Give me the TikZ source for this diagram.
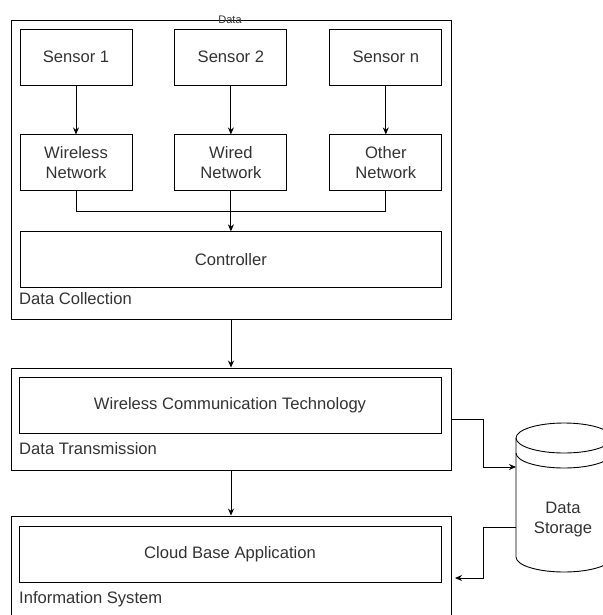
\documentclass[tikz,border=0pt]{standalone}
\usepackage{fontspec}
\setmainfont{Liberation Sans}
\usetikzlibrary{arrows.meta,positioning}
\definecolor{txt}{HTML}{333333}
\tikzstyle{block}=[rectangle,draw=black,line width=0.9pt,minimum width=112pt,
minimum height=56pt,inner sep=0pt,align=center,text=txt,font={\fontsize{16.6}{20}\selectfont}]
\tikzstyle{group}=[rectangle,draw=black,line width=0.9pt,minimum width=440pt,inner sep=0pt]
\tikzstyle{caption}=[anchor=west,inner sep=0pt,text=txt,font={\fontsize{16.6}{20}\selectfont}]
\tikzstyle{link}=[line width=0.9pt,-{Stealth[length=7pt,width=6pt]}]

\begin{document}
\begin{tikzpicture}[x=1pt,y=-1pt]
			\tikzstyle{wire}=[line width=0.9pt]
			\useasboundingbox (0,0) rectangle (602,615);

			% data collection
			\node[group,minimum height=299pt] (dc) at (231,169.5) {};
			\node[text=txt,inner sep=0pt,font={\fontsize{11}{13}\selectfont}] (datalabel) at (230,20) {Data};
			\node[block] (s1) at (76,57) {Sensor 1};
			\node[block, right=42pt of s1] (s2) {Sensor 2};
			\node[block, right=42pt of s2] (sn) {Sensor n};
			\node[block, below=49pt of s1] (wless) {Wireless\\Network};
			\node[block, below=49pt of s2] (wired) {Wired\\Network};
			\node[block, below=49pt of sn] (other) {Other\\Network};
			\node[block, minimum width=421pt, below=40pt of wired] (ctrl) {Controller};
			\node[caption] (dclabel) at (19,299) {Data Collection};

			% data transmission
			\node[group,minimum height=102pt] (dt) at (231,419) {};
			\node[block,minimum width=422pt] (wct) at (230,405) {Wireless Communication Technology};
			\node[caption] (dtlabel) at (19,449) {Data Transmission};

			% information system
			\node[group,minimum height=102pt] (is) at (231,567) {};
			\node[block,minimum width=422pt] (cba) at (230,554) {Cloud Base Application};
			\node[caption] (islabel) at (19,599) {Information System};

			% data storage
			\draw[wire] (564,438) ellipse [x radius=48pt,y radius=15pt];
			\draw[wire] (516,453) arc[start angle=180,end angle=360,x radius=48pt,y radius=15pt];
			\draw[wire] (516,438) -- (516,557) arc[start angle=180,end angle=360,x radius=48pt,y radius=15pt] -- (612,438);
			\node[text=txt,align=center,inner sep=0pt,font={\fontsize{16.6}{20}\selectfont}] (store) at (563,520) {Data\\Storage};
			\coordinate (storein) at (516,467);
			\coordinate (storeout) at (516,527);
			\coordinate (isin) at (455,578);

			\path[link] (s1) edge (wless) (s2) edge (wired) (sn) edge (other);
			\draw[wire] (wless.south) -- ++(0,20) -| (other.south);
			\draw[link] (wired) -- (ctrl);
			\draw[link] (dc) -- (dt);
			\draw[link] (dt) -- (is);
			\draw[link] (dt.east) -- ++(32,0) |- (storein);
			\draw[link] (storeout) -- ++(-33,0) |- (isin);
		\end{tikzpicture}
\end{document}
